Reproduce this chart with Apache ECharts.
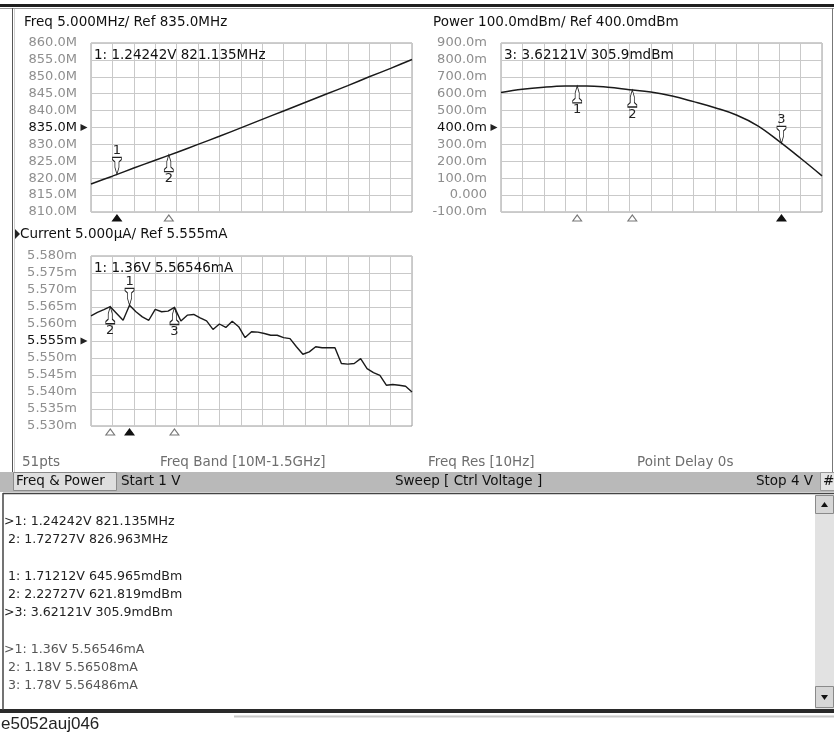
<!DOCTYPE html>
<html>
<head>
<meta charset="utf-8">
<script src="https://cdn.jsdelivr.net/npm/echarts@6/dist/echarts.min.js"></script>
<style>
html,body{margin:0;padding:0;background:#fff;}
#c{width:834px;height:735px;}
</style>
</head>
<body>
<div id="c"></div>
<script>
// ---------------- DATA ----------------
const voltsCoarse = [1.0,1.2,1.4,1.6,1.8,2.0,2.2,2.4,2.6,2.8,3.0,3.2,3.4,3.6,3.8,4.0];
const freqMHz = [818.3,820.6,823.0,825.3,827.6,830.0,832.4,834.9,837.4,839.9,842.4,844.9,847.4,850.0,852.5,855.1];
const powerMdBm = [607,626,638,645,646,638,624,610,586,553,517,474,410,318,218,114];

const voltsFine = [1.00,1.06,1.12,1.18,1.24,1.30,1.36,1.42,1.48,1.54,1.60,1.66,1.72,1.78,1.84,1.90,1.96,2.02,2.08,2.14,
  2.20,2.26,2.32,2.38,2.44,2.50,2.56,2.62,2.68,2.74,2.80,2.86,2.92,2.98,3.04,3.10,3.16,3.22,3.28,3.34,
  3.40,3.46,3.52,3.58,3.64,3.70,3.76,3.82,3.88,3.94,4.00];
const currentMA = [5.5624,5.5634,5.5642,5.5651,5.5631,5.5611,5.5655,5.5636,5.5621,5.5611,5.5643,5.5636,5.5638,5.5649,5.5609,5.5626,5.5628,5.5618,5.5609,5.5584,
  5.5600,5.5590,5.5608,5.5592,5.5560,5.5577,5.5576,5.5572,5.5567,5.5567,5.5560,5.5557,5.5533,5.5511,5.5518,5.5533,5.5530,5.5530,5.5530,5.5484,
  5.5482,5.5484,5.5498,5.5469,5.5457,5.5449,5.5420,5.5422,5.5420,5.5417,5.5400];

const freqTicks = ['860.0M','855.0M','850.0M','845.0M','840.0M','835.0M','830.0M','825.0M','820.0M','815.0M','810.0M'];
const powerTicks = ['900.0m','800.0m','700.0m','600.0m','500.0m','400.0m','300.0m','200.0m','100.0m','0.000','-100.0m'];
const currentTicks = ['5.580m','5.575m','5.570m','5.565m','5.560m','5.555m','5.550m','5.545m','5.540m','5.535m','5.530m'];

const freqMarkerNames = ['1','2'];
const freqMarkerV = [1.24242,1.72727];
const freqMarkerY = [821.135,826.963];
const freqActive = 0;
const powerMarkerNames = ['1','2','3'];
const powerMarkerV = [1.71212,2.22727,3.62121];
const powerMarkerY = [645.965,621.819,305.9];
const powerActive = 2;
const currentMarkerNames = ['1','2','3'];
const currentMarkerV = [1.36,1.18,1.78];
const currentMarkerY = [5.56546,5.56508,5.56486];
const currentActive = 0;

const titles = ['Freq 5.000MHz/ Ref 835.0MHz','Power 100.0mdBm/ Ref 400.0mdBm','Current 5.000\u00b5A/ Ref 5.555mA'];
const readouts = ['1: 1.24242V 821.135MHz','3: 3.62121V 305.9mdBm','1: 1.36V 5.56546mA'];
const infoRow = ['51pts','Freq Band [10M-1.5GHz]','Freq Res [10Hz]','Point Delay 0s'];
const listLines = ['>1: 1.24242V 821.135MHz',' 2: 1.72727V 826.963MHz','',' 1: 1.71212V 645.965mdBm',' 2: 2.22727V 621.819mdBm','>3: 3.62121V 305.9mdBm','','>1: 1.36V 5.56546mA',' 2: 1.18V 5.56508mA',' 3: 1.78V 5.56486mA'];

// ---------------- STYLE HELPERS ----------------
const FONT = 'DejaVu Sans';
const UP_PATH = 'path://M4.5,0 L6.3,7 L6.3,12.5 L8.5,14.8 L8.5,17 L0.5,17 L0.5,14.8 L2.7,12.5 L2.7,7 Z';
const DOWN_PATH = 'path://M4.5,17 L6.3,10 L6.3,4.5 L8.5,2.2 L8.5,0 L0.5,0 L0.5,2.2 L2.7,4.5 L2.7,10 Z';

function pairs(xs, ys){ return xs.map((x,i)=>[x, ys[i]]); }

function markers(names, vs, ys, active, yMin, yRef){
  const d = [];
  names.forEach((n,i)=>{
    const act = i === active;
    d.push({
      coord:[vs[i], ys[i]],
      symbol: act ? DOWN_PATH : UP_PATH,
      symbolSize:[9,17],
      symbolOffset:[0, act ? -8.5 : 8.5],
      itemStyle:{color:'#fff', borderColor:'#222', borderWidth:1},
      label:{show:true, formatter:n, position: act ? 'top' : 'bottom', distance:0, color:'#222', fontFamily:FONT, fontSize:13}
    });
    d.push({
      coord:[vs[i], yMin],
      symbol:'triangle',
      symbolSize:[9,6],
      symbolOffset:[0,6],
      itemStyle: act ? {color:'#111', borderColor:'#111', borderWidth:1} : {color:'#fff', borderColor:'#777', borderWidth:1},
      label:{show:false}
    });
  });
  d.push({
    coord:[1, yRef],
    symbol:'triangle',
    symbolSize:[7,7],
    symbolRotate:-90,
    symbolOffset:[-7,0],
    itemStyle:{color:'#222'},
    label:{show:false}
  });
  return d;
}

function yAxisFor(gi, min, max, interval, ticks, refIndex){
  return {
    type:'value', gridIndex:gi, min:min, max:max, interval:interval,
    axisLine:{show:false}, axisTick:{show:false},
    splitLine:{show:true, lineStyle:{color:'#c9c9c9', width:1}},
    axisLabel:{
      margin:14, fontFamily:FONT, fontSize:13,
      formatter:(v,idx)=>ticks[ticks.length-1-idx],
      color:(v,idx)=> idx === refIndex ? '#111' : '#8e8e8e'
    }
  };
}
function xAxisFor(gi){
  return {
    type:'value', gridIndex:gi, min:1, max:4, interval:0.2,
    axisLine:{show:false}, axisTick:{show:false}, axisLabel:{show:false},
    splitLine:{show:true, lineStyle:{color:'#c9c9c9', width:1}}
  };
}

function txt(x, y, s, opt){
  opt = opt || {};
  return {type:'text', x:x, y:y, z:100, silent:true,
    style:{text:s, fill:opt.fill||'#111', font:(opt.size||13.5)+'px "'+(opt.family||FONT)+'"',
      align:opt.align||'left', verticalAlign:'middle'}};
}
function rect(x,y,w,h,fill,stroke,z){
  return {type:'rect', z:z||1, silent:true, shape:{x:x,y:y,width:w,height:h},
    style:{fill:fill, stroke:stroke||null, lineWidth:1}};
}
function line(x1,y1,x2,y2,stroke,w){
  return {type:'line', z:50, silent:true, shape:{x1:x1,y1:y1,x2:x2,y2:y2}, style:{stroke:stroke, lineWidth:w||1}};
}
function tri(points, fill){
  return {type:'polygon', z:60, silent:true, shape:{points:points}, style:{fill:fill}};
}

// ---------------- GRAPHIC CHROME ----------------
const g = [];
// top frame
g.push(rect(0,4,834,3,'#1e1e1e',null,40));
g.push(line(0,8.5,834,8.5,'#9a9a9a',1));
// upper panel borders
g.push(line(12.5,8,12.5,472,'#555',1));
g.push(line(14.5,9,14.5,472,'#d0d0d0',1));
g.push(line(832.5,8,832.5,472,'#777',1));
// titles
g.push(txt(24,22,titles[0]));
g.push(txt(433,22,titles[1]));
g.push(tri([[15,229],[15,239],[20,234]],'#222'));
g.push(txt(20,234,titles[2]));
// readouts inside plots
g.push(txt(94,55,readouts[0]));
g.push(txt(504,55,readouts[1]));
g.push(txt(94,268,readouts[2]));
// info row
g.push(txt(22,462,infoRow[0],{fill:'#6e6e6e'}));
g.push(txt(160,462,infoRow[1],{fill:'#6e6e6e'}));
g.push(txt(428,462,infoRow[2],{fill:'#6e6e6e'}));
g.push(txt(637,462,infoRow[3],{fill:'#6e6e6e'}));
// status bar
g.push(rect(0,472,834,20,'#b9b9b9',null,1));
g.push(rect(13.5,472.5,103,18,'#dedede','#8a8a8a',2));
g.push(txt(16,481.5,'Freq & Power',{fill:'#111'}));
g.push(txt(121,481.5,'Start 1 V',{fill:'#111'}));
g.push(txt(395,481.5,'Sweep [ Ctrl Voltage ]',{fill:'#111'}));
g.push(txt(756,481.5,'Stop 4 V',{fill:'#111'}));
g.push(rect(820.5,472.5,14,18,'#e4e4e4','#9a9a9a',2));
g.push(txt(823,481.5,'#',{fill:'#111'}));
// list panel
g.push(rect(3.5,493.5,830,216,'#fff',null,1));
g.push(line(3,493,3,710,'#444',1.5));
g.push(line(3,493.5,834,493.5,'#444',1.5));
g.push(rect(0,709,834,4,'#2a2a2a',null,40));
g.push(line(234,716.5,834,716.5,'#c8c8c8',2));
// scrollbar
g.push(rect(815,495,19,214,'#e2e2e2',null,2));
g.push(rect(815.5,495.5,18,18,'#d6d6d6','#8a8a8a',3));
g.push(rect(815.5,686.5,18,21,'#d6d6d6','#8a8a8a',3));
g.push(tri([[821,507],[828,507],[824.5,502]],'#111'));
g.push(tri([[821,695],[828,695],[824.5,700]],'#111'));
// list text
const listY = [522,540,558,577,595,613,631,650,668,686];
listLines.forEach((s,i)=>{ if(s) g.push(txt(4,listY[i],s,{size:12.6, fill: i>=7 ? '#555' : '#222'})); });
// caption
g.push(txt(1,724,'e5052auj046',{size:17, family:'Liberation Sans', fill:'#222'}));

// ---------------- OPTION ----------------
const option = {
  animation:false,
  backgroundColor:'#fff',
  graphic:g,
  grid:[
    {left:91, top:43, width:321, height:169, show:true, borderColor:'#9d9d9d', borderWidth:1, backgroundColor:'transparent'},
    {left:501, top:43, width:321, height:169, show:true, borderColor:'#9d9d9d', borderWidth:1, backgroundColor:'transparent'},
    {left:91, top:256, width:321, height:170, show:true, borderColor:'#9d9d9d', borderWidth:1, backgroundColor:'transparent'}
  ],
  xAxis:[xAxisFor(0), xAxisFor(1), xAxisFor(2)],
  yAxis:[
    yAxisFor(0,810,860,5,freqTicks,5),
    yAxisFor(1,-100,900,100,powerTicks,5),
    yAxisFor(2,5.530,5.580,0.005,currentTicks,5)
  ],
  series:[
    {type:'line', xAxisIndex:0, yAxisIndex:0, data:pairs(voltsCoarse,freqMHz), showSymbol:false, smooth:0.3,
      lineStyle:{color:'#1a1a1a', width:1.5}, z:5,
      markPoint:{silent:true, data:markers(freqMarkerNames,freqMarkerV,freqMarkerY,freqActive,810,835)}},
    {type:'line', xAxisIndex:1, yAxisIndex:1, data:pairs(voltsCoarse,powerMdBm), showSymbol:false, smooth:0.4,
      lineStyle:{color:'#1a1a1a', width:1.5}, z:5,
      markPoint:{silent:true, data:markers(powerMarkerNames,powerMarkerV,powerMarkerY,powerActive,-100,400)}},
    {type:'line', xAxisIndex:2, yAxisIndex:2, data:pairs(voltsFine,currentMA), showSymbol:false,
      lineStyle:{color:'#1a1a1a', width:1.4}, z:5,
      markPoint:{silent:true, data:markers(currentMarkerNames,currentMarkerV,currentMarkerY,currentActive,5.530,5.555)}}
  ]
};
const chart = echarts.init(document.getElementById('c'), null, {renderer:'canvas'});
chart.setOption(option);
</script>
</body>
</html>
